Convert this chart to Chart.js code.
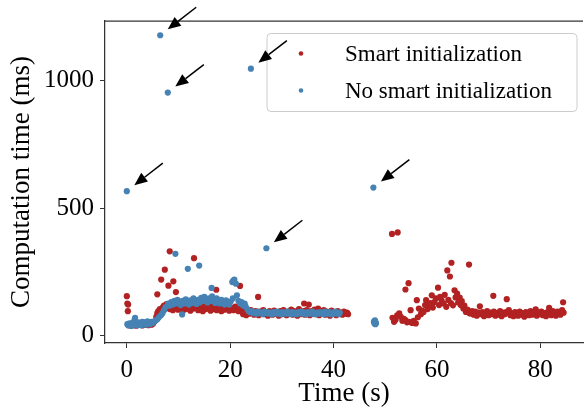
<!DOCTYPE html>
<html>
<head>
<meta charset="utf-8">
<script src="https://cdn.jsdelivr.net/npm/chart.js@4.4.1/dist/chart.umd.min.js"></script>
<style>
html, body { margin: 0; padding: 0; background: #fff; }
</style>
</head>
<body>
<canvas id="chart" width="587" height="412"></canvas>
<script>
// Temps de calcul, avec et sans initialisation intelligente

const seriesLabels = ['Smart initialization', 'No smart initialization'];
const xTicks = [0, 20, 40, 60, 80];
const yTicks = [0, 500, 1000];

// [temps (s), durée (ms)]
const smartInit = [
    [0, 155], [0.1, 126], [0.25, 122], [0.2, 96], [0.3, 44], [0.6, 40], [0.9, 46], [1.2, 41], [1.5, 45],
    [1.8, 39], [2.1, 44], [2.4, 42], [2.7, 46], [3.0, 40], [3.3, 44], [3.6, 42], [3.9, 47], [4.2, 41],
    [4.5, 45], [4.8, 43], [5.1, 48], [5.4, 56],
    [5.7, 74], [5.9, 88], [5.9, 162], [6.1, 96], [6.4, 104], [6.65, 220], [6.8, 98], [7.0, 112], [7.2, 118],
    [7.35, 259], [7.5, 106], [7.7, 124], [8.05, 196], [8.0, 110], [8.3, 331], [8.3, 104], [8.6, 118],
    [8.9, 100], [9.0, 213], [9.2, 112], [9.5, 171], [9.6, 120], [9.9, 102], [10.2, 118], [10.5, 108],
    [10.8, 96], [11.1, 114], [11.4, 104], [11.7, 122], [12.0, 108], [12.3, 98], [12.6, 116], [12.9, 106],
    [13.0, 304], [13.2, 124], [13.5, 110], [13.8, 100], [14.1, 116], [14.4, 106], [14.7, 96], [15.0, 114],
    [15.3, 104], [15.6, 120], [15.9, 108], [16.2, 98], [16.5, 114], [16.8, 104], [17.1, 112], [17.3, 180],
    [17.4, 100], [17.7, 116], [18.0, 104], [18.3, 96], [18.6, 112], [18.9, 102], [19.2, 116], [19.5, 106],
    [19.8, 98], [20.1, 110], [20.4, 102], [20.7, 100], [21.0, 114], [21.3, 104], [21.6, 96], [21.9, 195],
    [22.0, 108], [22.3, 98], [22.5, 84], [22.8, 92], [23.1, 80], [23.4, 96], [23.7, 86], [24.0, 100],
    [24.3, 90], [24.6, 82], [24.9, 96], [25.2, 88], [25.4, 152], [25.5, 80], [25.8, 94], [26.1, 86],
    [26.4, 100], [26.7, 84], [27.0, 92], [27.3, 78], [27.6, 96], [27.9, 88], [28.2, 82], [28.5, 98],
    [28.8, 86], [29.1, 92], [29.4, 78], [29.7, 96], [30.0, 84], [30.3, 100], [30.6, 88], [30.9, 80],
    [31.2, 94], [31.5, 86], [31.8, 102], [32.1, 82], [32.4, 96], [32.7, 88], [33.0, 78], [33.3, 104],
    [33.6, 90], [33.9, 84], [34.3, 126], [34.2, 96], [34.5, 82], [34.8, 100], [35.2, 122], [35.1, 88],
    [35.4, 80], [35.7, 96], [36.0, 86], [36.3, 102], [36.6, 84], [37.0, 106], [36.9, 92], [37.2, 80],
    [37.5, 96], [37.8, 86], [38.1, 100], [38.4, 82], [38.7, 94], [39.0, 88], [39.3, 78], [39.6, 98],
    [39.9, 86], [40.2, 92], [40.5, 80], [40.8, 96], [41.1, 86], [41.4, 90], [41.7, 82], [42.0, 94],
    [42.3, 86], [42.6, 90], [42.8, 84],
    [51.3, 399], [52.4, 405], [51.4, 70], [51.7, 54], [52.0, 62], [52.3, 80], [52.7, 87], [53.0, 74],
    [53.3, 58], [53.6, 66], [53.9, 61], [53.9, 181], [54.2, 52], [54.5, 206], [54.6, 54], [54.9, 100],
    [55.2, 50], [55.5, 58], [55.9, 48], [56.1, 139], [56.3, 72], [56.5, 106], [56.9, 84], [57.1, 98],
    [57.4, 93], [57.7, 120], [57.9, 139], [58.2, 104], [58.4, 115], [58.7, 128], [59.0, 158], [59.2, 110],
    [59.5, 132], [59.8, 146], [60.2, 188], [60.4, 120], [60.6, 152], [60.9, 138], [61.3, 126], [61.5, 160],
    [61.8, 113], [62.0, 256], [62.2, 140], [62.5, 232], [62.8, 286], [62.7, 128], [63.1, 119], [63.4, 178],
    [63.6, 150], [63.9, 165], [64.1, 130], [64.4, 149], [64.6, 120], [64.8, 135], [65.1, 106], [65.3, 118],
    [65.6, 93], [65.9, 102], [66.2, 279], [66.3, 88], [66.5, 87], [66.8, 96], [67.1, 82], [67.4, 94],
    [67.7, 78], [68.0, 90], [68.3, 115], [68.5, 84], [68.8, 92], [69.1, 76], [69.4, 88], [69.7, 96],
    [70.0, 80], [70.3, 90], [70.6, 84], [70.9, 156], [71.0, 94], [71.3, 78], [71.6, 88], [71.9, 82],
    [72.2, 96], [72.5, 76], [72.8, 90], [73.1, 84], [73.5, 143], [73.4, 92], [73.9, 100], [74.2, 80],
    [74.5, 88], [74.8, 76], [75.1, 92], [75.4, 84], [75.7, 78], [76.0, 94], [76.3, 82], [76.6, 88],
    [76.9, 74], [77.2, 92], [77.5, 84], [77.8, 80], [78.1, 96], [78.4, 82], [78.7, 88], [79.1, 103],
    [79.3, 78], [79.6, 90], [79.9, 84], [80.2, 94], [80.5, 80], [80.8, 88], [81.1, 76], [81.4, 92],
    [81.7, 109], [81.8, 84], [82.1, 80], [82.4, 96], [82.7, 86], [83.0, 78], [83.3, 94], [83.6, 88],
    [83.9, 82], [84.2, 100], [84.4, 131], [84.5, 90]
];

const noSmartInit = [
    [0, 567], [0.1, 45], [0.3, 40], [0.5, 48], [0.7, 42], [0.9, 38], [1.1, 50], [1.3, 44], [1.5, 62],
    [1.6, 70], [1.8, 46], [2.0, 40], [2.2, 52], [2.4, 44], [2.6, 48], [2.8, 41], [3.0, 54], [3.2, 46],
    [3.4, 52], [3.6, 43], [3.8, 50], [4.0, 56], [4.2, 44], [4.4, 52], [4.6, 47], [4.8, 54], [5.0, 50],
    [5.3, 55], [5.6, 60], [5.9, 64], [6.2, 72], [6.46, 1179], [6.6, 80], [6.9, 88], [7.2, 100], [7.5, 112],
    [7.93, 954], [8.0, 126], [8.3, 118], [8.6, 132], [8.9, 122], [9.2, 136], [9.4, 321], [9.5, 126],
    [9.8, 140], [10.1, 128], [10.4, 120], [10.7, 83], [10.8, 136], [11.1, 126], [11.4, 142], [11.7, 130],
    [11.8, 262], [12.0, 122], [12.3, 138], [12.6, 128], [12.9, 146], [13.2, 132], [13.5, 124], [13.8, 140],
    [14.0, 275], [14.1, 130], [14.4, 148], [14.7, 136], [15.0, 152], [15.3, 140], [15.6, 130], [15.9, 146],
    [16.2, 136], [16.4, 187], [16.5, 154], [16.8, 140], [17.1, 128], [17.4, 146], [17.7, 134], [18.0, 126],
    [18.3, 140], [18.6, 130], [18.9, 122], [19.2, 138], [19.5, 128], [19.8, 122], [20.1, 134], [20.4, 210],
    [20.6, 216], [20.8, 220], [21.1, 204], [20.5, 146], [21.3, 158], [21.6, 136], [21.9, 126], [22.2, 132],
    [22.5, 118], [22.8, 126], [23.0, 114], [23.3, 104], [23.6, 96], [23.9, 92], [24.0, 1048], [24.2, 96],
    [24.5, 88], [24.8, 92], [25.1, 86], [25.4, 94], [25.7, 88], [26.0, 90], [26.3, 84], [26.6, 94],
    [27.0, 343], [26.9, 88], [27.2, 92], [27.5, 86], [27.8, 90], [28.1, 84], [28.4, 92], [28.7, 88],
    [29.0, 94], [29.3, 86], [29.6, 90], [29.9, 84], [30.2, 92], [30.5, 88], [30.8, 86], [31.1, 94],
    [31.4, 88], [31.7, 84], [32.0, 92], [32.3, 86], [32.6, 90], [32.9, 84], [33.2, 92], [33.5, 88],
    [33.8, 94], [34.1, 86], [34.4, 90], [34.7, 84], [35.0, 92], [35.3, 88], [35.6, 86], [35.9, 94],
    [36.2, 88], [36.5, 84], [36.8, 90], [37.1, 86], [37.4, 92], [37.7, 88], [38.0, 84], [38.3, 94],
    [38.6, 88], [38.9, 86], [39.2, 92], [39.5, 84], [39.8, 90], [40.1, 86], [40.4, 94], [40.7, 88],
    [41.0, 84], [41.2, 90],
    [47.7, 581], [47.8, 55], [47.9, 48], [48.0, 60], [48.1, 45], [47.9, 52], [48.2, 50]
];

// Points aberrants signalés par une flèche
const flagged = [[0, 567], [6.46, 1179], [7.93, 954], [24.0, 1048], [27.0, 343], [47.7, 581]];

const RED = '#b22222';
const BLUE = '#4682b4';
const FONT = "'Liberation Serif', 'Times New Roman', serif";

function toXY(list) {
    return list.map(p => ({ x: p[0], y: p[1] }));
}

/**
 * Cadre supérieur, légende et flèches façon matplotlib
 */
const decorations = {
    id: 'decorations',
    afterDraw(chart) {
        const c = chart.ctx;
        const area = chart.chartArea;
        const xs = chart.scales.x;
        const ys = chart.scales.y;

        c.save();
        // bord supérieur
        c.strokeStyle = '#333';
        c.lineWidth = 1.25;
        c.beginPath();
        c.moveTo(area.left, area.top);
        c.lineTo(area.right, area.top);
        c.stroke();

        // légende
        const lx = area.left + 162, ly = area.top + 12.5, lw = 310, lh = 78;
        c.beginPath();
        c.moveTo(lx + 4, ly);
        c.arcTo(lx + lw, ly, lx + lw, ly + lh, 4);
        c.arcTo(lx + lw, ly + lh, lx, ly + lh, 4);
        c.arcTo(lx, ly + lh, lx, ly, 4);
        c.arcTo(lx, ly, lx + lw, ly, 4);
        c.closePath();
        c.fillStyle = 'rgba(255,255,255,0.8)';
        c.fill();
        c.strokeStyle = '#cccccc';
        c.lineWidth = 1;
        c.stroke();

        const colors = [RED, BLUE];
        c.font = '23px ' + FONT;
        c.textBaseline = 'middle';
        c.textAlign = 'left';
        seriesLabels.forEach((label, i) => {
            const cy = ly + 20 + i * 37;
            c.fillStyle = colors[i];
            c.beginPath();
            c.arc(lx + 34, cy, 2.3, 0, Math.PI * 2);
            c.fill();
            c.fillStyle = '#000';
            c.fillText(label, lx + 78, cy + 1);
        });

        // flèches
        c.fillStyle = '#000';
        c.strokeStyle = '#000';
        c.lineWidth = 1.5;
        flagged.forEach(p => {
            const px = xs.getPixelForValue(p[0]);
            const py = ys.getPixelForValue(p[1]);
            const tipX = px + 7.5, tipY = py - 6;
            const tailX = px + 36, tailY = py - 28;
            const len = Math.hypot(tipX - tailX, tipY - tailY);
            const ux = (tipX - tailX) / len, uy = (tipY - tailY) / len;
            const head = 13, half = 5.5;
            const bx = tipX - ux * head, by = tipY - uy * head;
            c.beginPath();
            c.moveTo(tailX, tailY);
            c.lineTo(bx, by);
            c.stroke();
            c.beginPath();
            c.moveTo(tipX, tipY);
            c.lineTo(bx - uy * half, by + ux * half);
            c.lineTo(bx + uy * half, by - ux * half);
            c.closePath();
            c.fill();
        });
        c.restore();
    }
};

const canvasCtx = document.getElementById('chart').getContext('2d');
const chart = new Chart(canvasCtx, {
    type: 'scatter',
    data: {
        datasets: [{
            label: seriesLabels[0],
            data: toXY(smartInit),
            backgroundColor: RED,
            borderWidth: 0,
            pointRadius: 3.1,
            order: 2
        }, {
            label: seriesLabels[1],
            data: toXY(noSmartInit),
            backgroundColor: BLUE,
            borderWidth: 0,
            pointRadius: 3.1,
            order: 1
        }]
    },
    options: {
        responsive: false,
        animation: false,
        layout: {
            padding: { top: 19, right: 0, bottom: 0, left: 0 }
        },
        plugins: {
            legend: { display: false },
            tooltip: { enabled: false }
        },
        scales: {
            x: {
                type: 'linear',
                min: -4.22,
                max: 88.25,
                afterBuildTicks: scale => { scale.ticks = xTicks.map(v => ({ value: v })); },
                afterFit: scale => { scale.height = 69; },
                grid: { drawOnChartArea: false, drawTicks: true, tickLength: 5, color: '#333' },
                border: { display: true, color: '#333', width: 1.25 },
                ticks: {
                    color: '#000',
                    padding: 7,
                    maxRotation: 0,
                    autoSkip: false,
                    callback: v => String(v),
                    font: { family: FONT, size: 25 }
                },
                title: {
                    display: true,
                    text: 'Time (s)',
                    color: '#000',
                    padding: { top: 0, bottom: 2 },
                    font: { family: FONT, size: 27 }
                }
            },
            y: {
                type: 'linear',
                min: -29,
                max: 1235,
                afterBuildTicks: scale => { scale.ticks = yTicks.map(v => ({ value: v })); },
                afterFit: scale => { scale.width = 105; },
                grid: { drawOnChartArea: false, drawTicks: true, tickLength: 5, color: '#333' },
                border: { display: true, color: '#333', width: 1.25 },
                ticks: {
                    color: '#000',
                    padding: 6,
                    autoSkip: false,
                    callback: v => String(v),
                    font: { family: FONT, size: 25 }
                },
                title: {
                    display: true,
                    text: 'Computation time (ms)',
                    color: '#000',
                    padding: { top: 6, bottom: 0 },
                    font: { family: FONT, size: 27 }
                }
            }
        }
    },
    plugins: [decorations]
});
</script>
</body>
</html>
